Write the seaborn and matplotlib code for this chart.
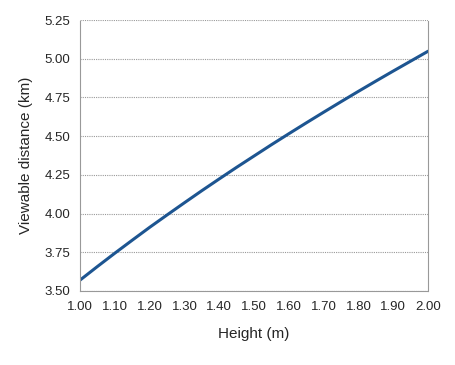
import matplotlib
matplotlib.use("Agg")
import matplotlib.pyplot as plt
import seaborn as sns
import pandas as pd

# Values
height_m = [1.00, 1.05, 1.10, 1.15, 1.20, 1.25, 1.30, 1.35, 1.40, 1.45, 1.50,
            1.55, 1.60, 1.65, 1.70, 1.75, 1.80, 1.85, 1.90, 1.95, 2.00]
distance_km = [3.570, 3.658, 3.744, 3.828, 3.911, 3.991, 4.070, 4.148, 4.224, 4.299, 4.372,
               4.445, 4.516, 4.586, 4.655, 4.723, 4.790, 4.856, 4.921, 4.985, 5.049]
x_ticks = [1.00, 1.10, 1.20, 1.30, 1.40, 1.50, 1.60, 1.70, 1.80, 1.90, 2.00]
y_ticks = [3.50, 3.75, 4.00, 4.25, 4.50, 4.75, 5.00, 5.25]

df = pd.DataFrame({"height": height_m, "distance": distance_km})

sns.set_style("white")
plt.rcParams['font.family'] = ['Liberation Sans', 'DejaVu Sans']

fig = plt.figure(figsize=(4.55, 3.65), dpi=100)
ax = fig.add_axes([0.176, 0.203, 0.765, 0.742])

sns.lineplot(data=df, x="height", y="distance", ax=ax, color="#1d5591", linewidth=2.2)

ax.set_xlim(1.0, 2.0)
ax.set_ylim(3.5, 5.25)
ax.set_xticks(x_ticks)
ax.set_xticklabels([f"{v:.2f}" for v in x_ticks], fontsize=9.5)
ax.set_yticks(y_ticks)
ax.set_yticklabels([f"{v:.2f}" for v in y_ticks], fontsize=9.5)

ax.yaxis.grid(True, color="#999999", linestyle=(0, (1, 1)), linewidth=0.8)
ax.xaxis.grid(False)
for side in ["left", "right", "bottom", "top"]:
    ax.spines[side].set_color("#999999")
    ax.spines[side].set_linestyle((0, (1, 1)))
    ax.spines[side].set_linewidth(0.8)
ax.spines["top"].set_visible(False)
ax.tick_params(axis="both", direction="out", length=4, width=0.8, color="#999999", pad=3)

ax.set_xlabel("Height (m)", fontsize=11, labelpad=10)
ax.set_ylabel("Viewable distance (km)", fontsize=11, labelpad=8)

fig.savefig("out.png", dpi=100)
